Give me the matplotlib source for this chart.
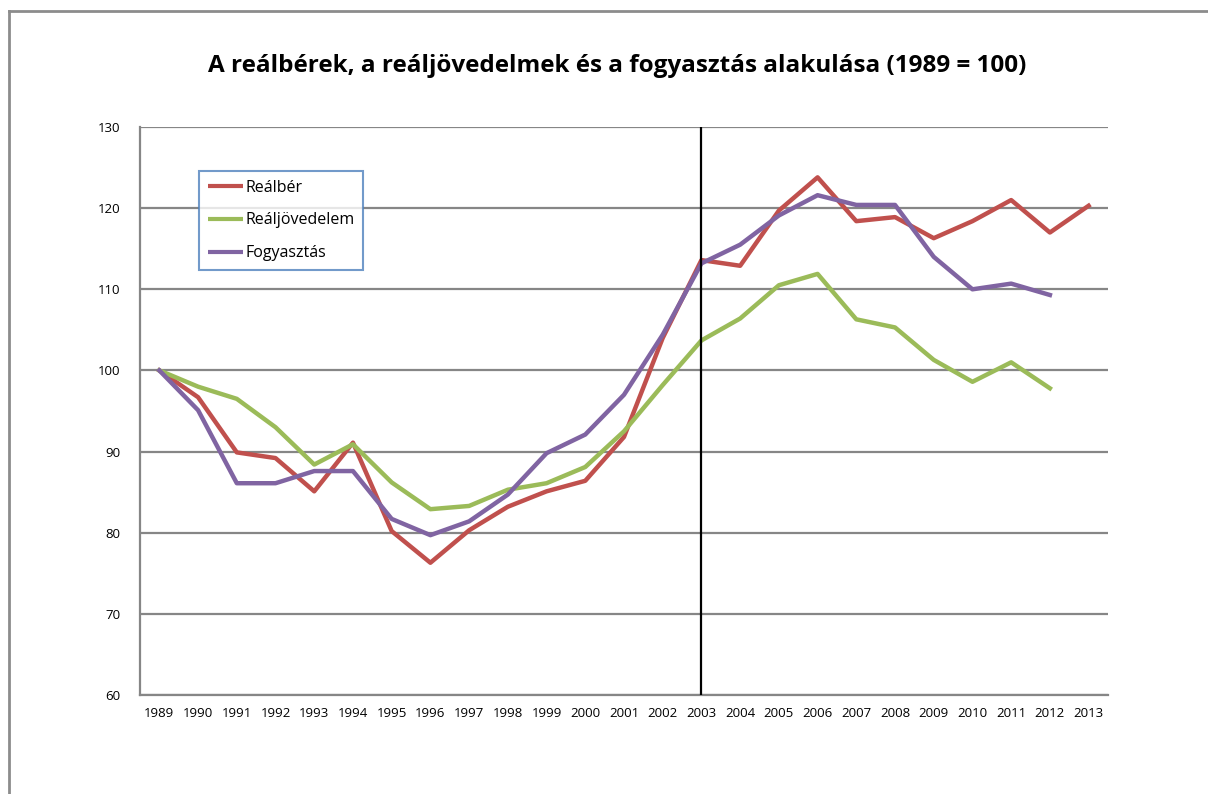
import matplotlib.pyplot as plt
from matplotlib.lines import Line2D

# data (1989 = 100)
years = [str(y) for y in range(1989, 2014)]
realber = [100, 96.7, 89.9, 89.2, 85.1, 91.1, 80.2, 76.3, 80.3, 83.2, 85.1, 86.4,
           91.8, 104.0, 113.6, 112.9, 119.7, 123.8, 118.4, 118.9, 116.3, 118.4,
           121.0, 117.0, 120.3]
realjov = [100, 98.0, 96.5, 93.0, 88.4, 90.9, 86.2, 82.9, 83.3, 85.3, 86.1, 88.1,
           92.5, 98.2, 103.7, 106.4, 110.5, 111.9, 106.3, 105.3, 101.3, 98.6,
           101.0, 97.8]
fogy = [100, 95.1, 86.1, 86.1, 87.6, 87.6, 81.7, 79.7, 81.4, 84.7, 89.8, 92.1,
        97.0, 104.4, 113.2, 115.5, 119.1, 121.6, 120.4, 120.4, 114.0, 110.0,
        110.7, 109.3]
yticks = [60, 70, 80, 90, 100, 110, 120, 130]
marker_year = '2003'

plt.rcParams['font.family'] = ['Open Sans', 'DejaVu Sans']

fig = plt.figure(figsize=(12.08, 7.94), dpi=100)
ax = fig.add_axes([0.1159, 0.1247, 0.8013, 0.7153])

ax.plot(range(len(realber)), realber, color='#C0504D', lw=3.2, label='Reálbér',
        solid_joinstyle='round')
ax.plot(range(len(realjov)), realjov, color='#9BBB59', lw=3.2, label='Reáljövedelem',
        solid_joinstyle='round')
ax.plot(range(len(fogy)), fogy, color='#8064A2', lw=3.2, label='Fogyasztás',
        solid_joinstyle='round')
ax.axvline(years.index(marker_year), color='black', lw=1.6, zorder=5)

ax.set_xlim(-0.5, len(years) - 0.5)
ax.set_ylim(60, 130)
ax.set_xticks(range(len(years)))
ax.set_xticklabels(years)
ax.set_yticks(yticks)
ax.tick_params(axis='both', length=0, labelsize=9.5, colors='black')
ax.tick_params(axis='x', pad=9)
ax.tick_params(axis='y', pad=14)
ax.grid(axis='y', color='#868686', lw=1.6)
ax.set_axisbelow(True)
for s in ['top', 'right']:
    ax.spines[s].set_visible(False)
for s in ['left', 'bottom']:
    ax.spines[s].set_color('#868686')
    ax.spines[s].set_linewidth(1.6)

leg = ax.legend(loc='upper left', bbox_to_anchor=(0.061, 0.923), fontsize=11.5,
                frameon=True, fancybox=False, handlelength=2.2, handletextpad=0.15,
                labelspacing=1.05, borderpad=0.55, borderaxespad=0)
leg.get_frame().set_edgecolor('#4F81BD')
leg.get_frame().set_linewidth(1.5)
for h in leg.get_lines():
    h.set_linewidth(3)
    h.set_solid_capstyle('butt')

fig.text(0.511, 0.917, 'A reálbérek, a reáljövedelmek és a fogyasztás alakulása (1989 = 100)',
         ha='center', va='center', fontsize=17.5, fontweight='bold')

# outer chart frame (clipped by the image edges)
fig.add_artist(Line2D([9 / 1208, 1], [1 - 11 / 794, 1 - 11 / 794], color='#8c8c8c', lw=2))
fig.add_artist(Line2D([9 / 1208, 9 / 1208], [0, 1 - 11 / 794], color='#8c8c8c', lw=2))

fig.savefig('out.png', dpi=100)
